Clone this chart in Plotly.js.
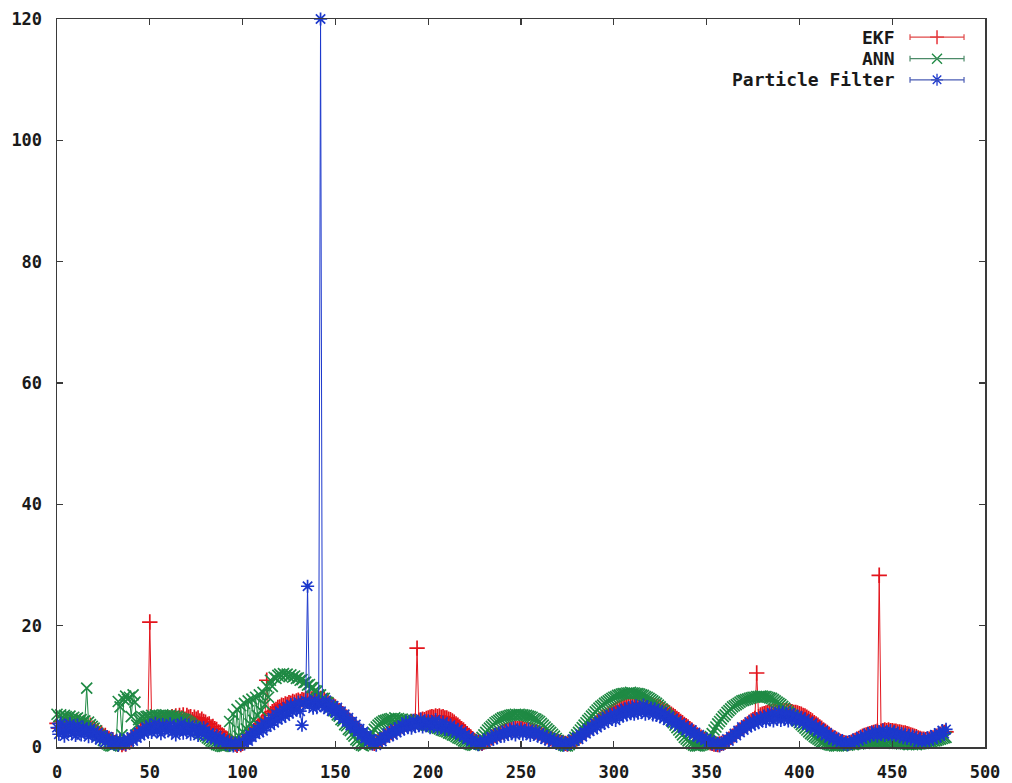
<!DOCTYPE html>
<html>
<head>
<meta charset="utf-8">
<script src="https://cdn.plot.ly/plotly-3.0.1.min.js"></script>
<style>
  html, body { margin: 0; padding: 0; background: #ffffff; }
  #chart { width: 1012px; height: 783px; }
</style>
</head>
<body>
<div id="chart"></div>
<script>
// Error per sample (samples 0..479) for the three estimators.
const seriesNames = ['EKF', 'ANN', 'Particle Filter'];

const ekfError = [
  3.9, 3.1, 4.2, 3.4, 3.7, 4.3, 3.2, 3.8, 4.0, 3.3, 3.6, 4.1, 3.0, 3.5, 3.9, 3.2, 3.4, 2.9, 3.6, 3.1,
  3.0, 2.4, 2.7, 2.1, 2.3, 1.8, 1.9, 1.5, 1.4, 1.1, 1.2, 0.7, 0.9, 0.5, 0.8, 0.4, 0.7, 0.5, 0.9, 0.8,
  1.3, 1.5, 1.9, 2.2, 2.4, 2.8, 3.0, 3.3, 3.2, 3.7, 20.6, 4.0, 3.9, 4.2, 3.8, 4.4, 4.1, 4.6, 4.3, 4.5,
  4.8, 4.4, 5.0, 4.6, 5.1, 4.7, 5.2, 4.8, 5.3, 4.6, 5.2, 4.9, 5.0, 4.5, 4.9, 4.6, 4.8, 4.3, 4.6, 4.2,
  4.1, 3.7, 3.8, 3.3, 3.4, 3.0, 2.9, 2.5, 2.4, 2.0, 1.8, 1.5, 1.3, 1.0, 0.8, 0.6, 0.5, 0.3, 0.6, 0.4,
  0.6, 1.0, 1.3, 1.7, 2.0, 2.3, 2.7, 3.0, 3.3, 3.6, 3.9, 4.3, 4.6, 11.0, 5.2, 5.5, 5.8, 6.0, 6.2, 6.5,
  6.6, 6.9, 6.8, 7.1, 7.0, 7.3, 7.2, 7.5, 7.4, 7.6, 7.7, 7.5, 7.8, 7.7, 8.0, 7.8, 8.1, 7.9, 8.2, 8.0,
  8.1, 7.9, 8.0, 7.7, 7.8, 7.5, 7.4, 7.1, 7.0, 6.8, 6.6, 6.3, 6.0, 5.8, 5.5, 5.2, 4.9, 4.5, 4.2, 3.9,
  3.6, 3.3, 3.0, 2.6, 2.3, 2.0, 1.7, 1.4, 1.1, 0.9, 0.7, 0.6, 0.8, 1.0, 1.2, 1.3, 1.6, 1.8, 2.0, 2.2,
  2.4, 2.6, 2.8, 3.0, 3.2, 3.3, 3.5, 3.7, 3.8, 3.9, 4.0, 4.2, 4.1, 4.3, 16.3, 4.4, 4.4, 4.6, 4.5, 4.7,
  4.8, 4.9, 5.0, 4.9, 5.1, 5.0, 5.1, 4.9, 5.0, 4.8, 4.8, 4.6, 4.5, 4.3, 4.1, 3.8, 3.6, 3.3, 3.0, 2.8,
  2.5, 2.2, 1.9, 1.6, 1.3, 1.0, 0.9, 0.7, 0.8, 0.6, 0.8, 1.0, 1.2, 1.3, 1.5, 1.7, 1.9, 2.0, 2.2, 2.3,
  2.5, 2.6, 2.7, 2.8, 2.9, 2.9, 3.0, 3.1, 3.0, 3.1, 3.0, 3.0, 2.9, 2.9, 2.8, 2.8, 2.7, 2.6, 2.5, 2.4,
  2.3, 2.2, 2.0, 1.9, 1.7, 1.6, 1.4, 1.3, 1.1, 1.0, 0.9, 0.8, 0.7, 0.6, 0.6, 0.5, 0.7, 0.8, 1.0, 1.2,
  1.3, 1.6, 1.8, 2.1, 2.4, 2.6, 2.9, 3.1, 3.4, 3.6, 3.9, 4.1, 4.4, 4.6, 4.9, 5.0, 5.2, 5.4, 5.6, 5.8,
  6.0, 6.2, 6.3, 6.5, 6.6, 6.7, 6.8, 6.9, 7.0, 7.0, 7.1, 7.2, 7.1, 7.2, 7.1, 7.2, 7.1, 7.0, 7.1, 7.0,
  7.0, 6.9, 6.8, 6.7, 6.6, 6.5, 6.3, 6.1, 5.9, 5.8, 5.6, 5.4, 5.2, 5.0, 4.7, 4.5, 4.2, 4.0, 3.7, 3.5,
  3.3, 3.0, 2.8, 2.5, 2.3, 2.0, 1.8, 1.6, 1.3, 1.2, 1.0, 0.8, 0.7, 0.6, 0.5, 0.5, 0.4, 0.5, 0.6, 0.7,
  0.8, 1.1, 1.3, 1.6, 1.8, 2.0, 2.3, 2.6, 2.8, 3.1, 3.3, 3.6, 3.8, 4.1, 4.3, 4.5, 4.7, 12.2, 5.0, 5.3,
  5.4, 5.5, 5.6, 5.7, 5.8, 5.8, 5.9, 6.0, 6.0, 6.1, 6.0, 6.1, 6.0, 6.0, 5.9, 5.9, 5.8, 5.7, 5.7, 5.6,
  5.5, 5.4, 5.2, 5.1, 4.9, 4.7, 4.5, 4.3, 4.0, 3.8, 3.6, 3.3, 3.1, 2.8, 2.6, 2.4, 2.1, 1.9, 1.6, 1.5,
  1.3, 1.1, 0.9, 0.8, 0.7, 0.6, 0.6, 0.7, 0.8, 1.0, 1.1, 1.3, 1.4, 1.6, 1.8, 1.9, 2.0, 2.1, 2.2, 2.3,
  2.4, 2.5, 2.6, 28.3, 2.6, 2.7, 2.8, 2.7, 2.8, 2.7, 2.7, 2.6, 2.6, 2.5, 2.5, 2.4, 2.3, 2.3, 2.2, 2.1,
  2.0, 1.9, 1.8, 1.7, 1.5, 1.4, 1.3, 1.3, 1.2, 1.3, 1.3, 1.4, 1.5, 1.6, 1.8, 1.9, 2.1, 2.2, 2.4, 2.5
];

const annError = [
  5.4, 5.0, 5.3, 4.9, 5.2, 5.0, 4.8, 5.1, 4.7, 4.9, 4.6, 4.8, 4.4, 4.5, 4.2, 4.3, 9.7, 4.1, 3.7, 3.4,
  3.1, 2.7, 2.3, 1.9, 1.5, 1.1, 0.8, 0.5, 0.3, 0.2, 0.2, 0.4, 1.2, 7.5, 6.6, 2.0, 7.8, 8.4, 7.9, 8.2,
  5.0, 8.6, 7.4, 3.6, 4.5, 4.7, 4.9, 4.8, 5.0, 5.1, 4.9, 5.2, 5.0, 5.3, 5.1, 5.2, 5.0, 5.3, 5.1, 5.2,
  5.1, 5.2, 5.0, 5.1, 4.9, 5.0, 4.8, 4.7, 4.6, 4.5, 4.3, 4.1, 3.9, 3.6, 3.4, 3.1, 2.8, 2.6, 2.3, 2.0,
  1.8, 1.5, 1.3, 1.0, 0.8, 0.6, 0.4, 0.3, 0.2, 0.1, 0.1, 0.2, 0.3, 4.2, 0.8, 5.4, 1.3, 6.2, 1.8, 6.8,
  2.5, 7.2, 3.0, 7.6, 3.8, 7.9, 4.4, 8.2, 5.2, 8.6, 6.0, 9.0, 7.0, 10.0, 8.2, 11.0, 10.0, 11.5, 11.3, 11.8,
  12.0, 11.7, 12.1, 11.8, 12.0, 11.6, 11.9, 11.5, 11.7, 11.3, 11.4, 11.0, 11.1, 10.6, 10.7, 10.2, 10.3, 9.8, 9.8, 9.3,
  9.2, 8.6, 8.6, 8.0, 8.0, 7.4, 7.3, 6.7, 6.6, 6.0, 5.9, 5.3, 5.1, 4.5, 4.3, 3.7, 3.5, 2.9, 2.7, 2.1,
  1.8, 1.2, 1.0, 0.5, 0.3, 0.2, 0.4, 0.8, 1.3, 1.9, 2.4, 2.9, 3.3, 3.6, 3.9, 4.1, 4.3, 4.4, 4.5, 4.6,
  4.7, 4.5, 4.8, 4.6, 4.7, 4.5, 4.6, 4.4, 4.5, 4.3, 4.4, 4.2, 4.3, 4.1, 4.1, 3.9, 4.0, 3.8, 3.8, 3.6,
  3.6, 3.5, 3.4, 3.3, 3.2, 3.1, 3.0, 2.8, 2.7, 2.6, 2.5, 2.3, 2.2, 2.0, 1.9, 1.7, 1.5, 1.4, 1.2, 1.0,
  0.9, 0.7, 0.5, 0.4, 0.3, 0.3, 0.5, 0.8, 1.2, 1.6, 2.0, 2.4, 2.8, 3.1, 3.4, 3.7, 4.0, 4.2, 4.4, 4.6,
  4.8, 4.9, 5.0, 5.1, 5.2, 5.3, 5.3, 5.4, 5.3, 5.4, 5.3, 5.3, 5.2, 5.2, 5.1, 5.0, 4.9, 4.7, 4.6, 4.4,
  4.2, 3.9, 3.6, 3.3, 3.0, 2.7, 2.4, 2.1, 1.8, 1.4, 1.1, 0.8, 0.5, 0.3, 0.2, 0.2, 0.4, 0.7, 1.1, 1.6,
  2.0, 2.4, 2.8, 3.2, 3.6, 4.0, 4.4, 4.7, 5.1, 5.4, 5.8, 6.1, 6.4, 6.7, 6.9, 7.2, 7.4, 7.6, 7.8, 8.0,
  8.2, 8.3, 8.5, 8.6, 8.7, 8.8, 8.8, 8.9, 8.9, 9.0, 8.9, 8.9, 8.8, 8.8, 8.7, 8.6, 8.5, 8.3, 8.2, 8.0,
  7.8, 7.6, 7.4, 7.2, 6.9, 6.6, 6.3, 6.0, 5.6, 5.2, 4.8, 4.4, 4.0, 3.6, 3.2, 2.8, 2.4, 2.0, 1.6, 1.3,
  1.0, 0.7, 0.5, 0.3, 0.2, 0.2, 0.2, 0.3, 0.4, 0.6, 0.8, 1.2, 1.7, 2.2, 2.8, 3.3, 3.8, 4.2, 4.6, 5.0,
  5.3, 5.7, 6.0, 6.3, 6.6, 6.8, 7.0, 7.2, 7.4, 7.6, 7.7, 7.8, 7.9, 8.0, 8.1, 8.2, 8.2, 8.3, 8.3, 8.4,
  8.4, 8.3, 8.3, 8.2, 8.1, 8.0, 7.8, 7.6, 7.4, 7.2, 7.0, 6.7, 6.4, 6.1, 5.8, 5.5, 5.2, 4.9, 4.6, 4.3,
  4.0, 3.7, 3.4, 3.1, 2.8, 2.5, 2.2, 2.0, 1.7, 1.5, 1.3, 1.1, 0.9, 0.8, 0.6, 0.5, 0.4, 0.3, 0.3, 0.2,
  0.2, 0.2, 0.3, 0.2, 0.3, 0.4, 0.3, 0.4, 0.5, 0.4, 0.5, 0.6, 0.5, 0.6, 0.7, 0.6, 0.7, 0.8, 0.7, 0.8,
  0.8, 0.9, 0.8, 0.9, 0.8, 0.9, 0.8, 0.7, 0.8, 0.7, 0.7, 0.6, 0.7, 0.6, 0.6, 0.5, 0.6, 0.5, 0.5, 0.4,
  0.5, 0.4, 0.5, 0.4, 0.5, 0.5, 0.6, 0.6, 0.7, 0.7, 0.8, 0.9, 1.0, 1.0, 1.1, 1.2, 1.3, 1.4, 1.5, 1.6
];

const pfError = [
  3.2, 2.1, 3.9, 2.6, 1.8, 3.4, 2.9, 3.8, 2.2, 3.1, 1.9, 3.6, 2.7, 2.0, 3.3, 2.4, 2.9, 1.7, 3.0, 2.2,
  2.6, 1.5, 2.3, 1.2, 1.9, 1.6, 0.8, 1.7, 1.1, 0.6, 1.3, 0.5, 0.9, 0.3, 1.2, 0.6, 1.0, 0.4, 1.4, 0.9,
  1.6, 1.0, 2.1, 1.5, 2.4, 1.9, 2.8, 2.2, 3.3, 2.5, 3.6, 2.4, 3.1, 3.9, 2.6, 3.4, 2.2, 3.7, 2.8, 3.3,
  2.7, 3.8, 2.4, 3.2, 2.0, 3.5, 2.9, 3.9, 2.3, 3.1, 2.6, 3.6, 2.1, 3.0, 2.8, 3.4, 1.9, 2.9, 2.5, 3.2,
  2.6, 1.8, 2.3, 1.5, 2.0, 1.4, 1.9, 0.9, 1.5, 0.8, 1.2, 0.5, 0.9, 0.3, 0.7, 0.2, 0.6, 0.3, 0.8, 0.4,
  0.9, 0.5, 1.4, 1.0, 2.0, 1.6, 2.5, 2.1, 3.0, 2.4, 3.5, 2.7, 3.9, 3.3, 4.4, 3.6, 4.8, 4.0, 5.4, 4.5,
  5.9, 4.8, 6.2, 5.1, 6.6, 5.5, 7.0, 5.8, 6.9, 6.1, 7.4, 5.9, 3.6, 7.2, 7.6, 26.5, 7.0, 7.3, 6.4, 7.8,
  6.5, 7.4, 120.0, 7.0, 6.6, 7.7, 6.2, 7.0, 5.9, 6.8, 5.6, 6.5, 5.2, 5.9, 4.6, 5.4, 4.1, 4.8, 3.5, 4.2,
  3.0, 3.7, 2.5, 3.0, 1.9, 2.5, 1.4, 1.9, 0.9, 1.3, 0.5, 1.0, 0.3, 0.8, 1.3, 0.9, 1.7, 1.5, 2.3, 1.8,
  2.6, 2.0, 3.0, 2.4, 3.3, 2.7, 3.6, 3.0, 4.1, 3.2, 3.9, 3.1, 4.4, 3.4, 4.0, 3.5, 4.6, 3.3, 4.2, 3.7,
  4.3, 3.2, 4.0, 3.6, 4.5, 3.1, 3.8, 3.4, 4.1, 2.9, 3.5, 3.0, 3.6, 2.6, 3.1, 2.4, 2.9, 2.0, 2.5, 1.7,
  2.0, 1.3, 1.7, 0.9, 1.2, 0.6, 1.0, 0.4, 0.8, 0.5, 1.1, 0.7, 1.4, 1.0, 1.7, 1.3, 2.1, 1.5, 2.3, 1.8,
  2.4, 1.8, 2.7, 2.1, 2.9, 2.2, 3.1, 2.0, 2.8, 2.4, 3.0, 2.1, 2.7, 2.3, 2.9, 1.9, 2.5, 2.2, 2.6, 1.8,
  2.3, 1.6, 2.0, 1.3, 1.7, 1.1, 1.5, 0.8, 1.2, 0.6, 1.0, 0.5, 0.8, 0.3, 0.7, 0.4, 0.9, 0.6, 1.3, 1.0,
  1.6, 1.3, 2.1, 1.7, 2.5, 2.2, 3.0, 2.6, 3.4, 2.9, 3.9, 3.2, 4.2, 3.7, 4.6, 3.9, 5.0, 4.3, 5.3, 4.6,
  5.5, 4.4, 5.7, 4.9, 6.1, 5.1, 6.3, 5.3, 6.5, 5.5, 6.6, 5.4, 6.8, 5.6, 6.5, 5.7, 6.9, 5.4, 6.6, 5.8,
  6.4, 5.3, 6.3, 5.2, 6.0, 5.0, 5.8, 4.7, 5.4, 4.4, 5.1, 4.1, 4.7, 3.8, 4.3, 3.4, 3.9, 3.1, 3.5, 2.7,
  3.1, 2.4, 2.8, 2.0, 2.4, 1.7, 2.0, 1.4, 1.6, 1.1, 1.3, 0.8, 1.0, 0.5, 0.8, 0.3, 0.6, 0.2, 0.5, 0.6,
  0.9, 1.3, 1.0, 1.7, 1.5, 2.2, 1.9, 2.7, 2.4, 3.3, 2.8, 3.6, 3.2, 4.1, 3.5, 4.4, 3.8, 4.7, 4.0, 4.9,
  4.4, 5.1, 4.2, 5.3, 4.5, 5.6, 4.3, 5.5, 4.6, 5.8, 4.4, 5.7, 4.6, 5.5, 4.3, 5.6, 4.5, 5.3, 4.2, 5.1,
  4.3, 4.9, 3.9, 4.6, 3.6, 4.2, 3.2, 3.9, 2.9, 3.4, 2.6, 3.1, 2.2, 2.7, 1.9, 2.3, 1.5, 1.9, 1.2, 1.5,
  1.0, 1.3, 0.7, 1.0, 0.5, 0.8, 0.4, 0.9, 0.6, 1.1, 0.8, 1.4, 1.1, 1.7, 1.3, 1.9, 1.6, 2.2, 1.8, 2.4,
  2.0, 2.6, 1.8, 2.5, 2.1, 2.8, 1.9, 2.4, 2.2, 2.7, 1.8, 2.5, 2.0, 2.3, 1.7, 2.2, 1.5, 2.1, 1.4, 1.9,
  1.3, 1.8, 1.1, 1.6, 0.9, 1.4, 0.8, 1.3, 0.9, 1.5, 1.1, 1.7, 1.3, 2.0, 1.6, 2.3, 1.8, 2.7, 2.2, 2.9
];

const xTickValues = [0, 50, 100, 150, 200, 250, 300, 350, 400, 450, 500];
const yTickValues = [0, 20, 40, 60, 80, 100, 120];

const colors = ['#e3141c', '#1f8a44', '#1c38cc'];
const legendLineColors = ['#e04848', '#4c8a68', '#4a5cb4'];
const symbols = ['cross-thin-open', 'x-thin-open', 'asterisk-open'];
const seriesData = [ekfError, annError, pfError];

// Sample index for each value
const sampleIndex = pfError.map((_, i) => i);

const FONT = 'DejaVu Sans Mono, Liberation Mono, monospace';

const traces = seriesData.map((vals, k) => ({
  type: 'scatter',
  mode: 'lines+markers',
  name: seriesNames[k],
  x: sampleIndex,
  y: vals,
  cliponaxis: false,
  line: { color: colors[k], width: 1 },
  marker: { symbol: symbols[k], size: 11, color: colors[k], line: { color: colors[k], width: 1.7 } },
  showlegend: false,
  hoverinfo: 'skip'
}));

// Key: right-aligned labels with a short sample line and marker to their right.
const keyRows = [0.975, 0.9455, 0.9165];
const keyLineX0 = 0.9192, keyLineX1 = 0.9774, keyMarkX = 0.9483, keyTextX = 0.9052;

seriesNames.forEach((name, k) => {
  traces.push({
    type: 'scatter', mode: 'markers', xaxis: 'x2', yaxis: 'y2',
    x: [keyMarkX], y: [keyRows[k]],
    marker: { symbol: symbols[k], size: 10, color: colors[k], line: { color: colors[k], width: 1.3 } },
    showlegend: false, hoverinfo: 'skip', cliponaxis: false
  });
});

const shapes = [];
const annotations = [];
seriesNames.forEach((name, k) => {
  const yk = keyRows[k];
  shapes.push({ type: 'line', xref: 'paper', yref: 'paper', x0: keyLineX0, x1: keyLineX1, y0: yk, y1: yk,
    line: { color: legendLineColors[k], width: 1.2 } });
  [keyLineX0, keyLineX1].forEach(xc => shapes.push({ type: 'line', xref: 'paper', yref: 'paper',
    x0: xc, x1: xc, y0: yk - 0.004, y1: yk + 0.004, line: { color: legendLineColors[k], width: 1.2 } }));
  annotations.push({ xref: 'paper', yref: 'paper', x: keyTextX, y: yk, xanchor: 'right', yanchor: 'middle',
    text: '<b>' + name + '</b>', showarrow: false, font: { family: FONT, size: 18, color: '#1a1a1a' } });
});

const axisCommon = {
  showgrid: false, zeroline: false, showline: true, linecolor: '#3a3a3a', linewidth: 1.5,
  mirror: 'allticks', ticks: 'inside', ticklen: 6, tickwidth: 1.2, tickcolor: '#3a3a3a',
  tickfont: { family: FONT, size: 17, color: '#1a1a1a', weight: 'bold' }
};

const layout = {
  width: 1012, height: 783,
  margin: { l: 57, r: 27, t: 19, b: 36 },
  paper_bgcolor: '#ffffff', plot_bgcolor: '#ffffff',
  xaxis: Object.assign({}, axisCommon, { range: [0, 500], tickvals: xTickValues, ticktext: xTickValues.map(String), ticklabelstandoff: 9 }),
  yaxis: Object.assign({}, axisCommon, { range: [0, 120], tickvals: yTickValues, ticktext: yTickValues.map(String), ticklabelstandoff: 10 }),
  xaxis2: { overlaying: 'x', range: [0, 1], visible: false, fixedrange: true },
  yaxis2: { overlaying: 'y', range: [0, 1], visible: false, fixedrange: true },
  shapes: shapes,
  annotations: annotations,
  showlegend: false
};

Plotly.newPlot('chart', traces, layout, { staticPlot: true, displayModeBar: false });
</script>
</body>
</html>
